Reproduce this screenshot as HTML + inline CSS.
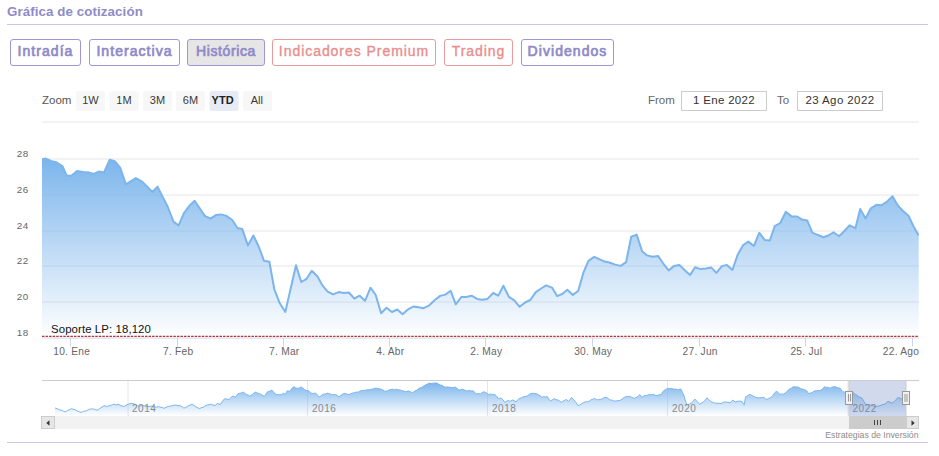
<!DOCTYPE html>
<html><head><meta charset="utf-8">
<style>
html,body{margin:0;padding:0;background:#fff;}
body{width:939px;height:456px;position:relative;overflow:hidden;font-family:"Liberation Sans",sans-serif;}
.abs{position:absolute;}
.title{left:7px;top:4px;font-size:13.3px;line-height:16px;font-weight:bold;color:#8f8bc7;white-space:nowrap;letter-spacing:0.1px;}
.hr{position:absolute;left:7px;width:921px;height:1px;background:#c9c6e6;}
.btn{position:absolute;top:39px;height:25px;border:1px solid #9d98d3;border-radius:3px;box-sizing:content-box;
 color:#8f8ac8;font-weight:normal;-webkit-text-stroke:0.7px #8f8ac8;font-size:14px;line-height:23px;text-align:center;white-space:nowrap;letter-spacing:1.05px;}
.btn.red{border-color:#e99a9a;color:#e98d8d;font-weight:normal;-webkit-text-stroke:0.35px #e98d8d;letter-spacing:0.95px;}
.btn.sel{background:#e6e6e6;}
svg text{font-family:"Liberation Sans",sans-serif;}
</style></head><body>
<div class="abs title">Gráfica de cotización</div>
<div class="hr" style="top:24px"></div>
<div class="btn" style="left:10px;width:69px;">Intradía</div>
<div class="btn" style="left:89px;width:89px;">Interactiva</div>
<div class="btn sel" style="left:187px;width:76px;letter-spacing:0.6px;">Histórica</div>
<div class="btn red" style="left:272px;width:162px;">Indicadores Premium</div>
<div class="btn red" style="left:444px;width:67px;">Trading</div>
<div class="btn" style="left:521px;width:91px;">Dividendos</div>
<div class="hr" style="top:442px"></div>

<svg class="abs" style="left:0;top:0" width="939" height="456" viewBox="0 0 939 456">
<defs>
<clipPath id="pc"><rect x="42" y="110" width="877" height="230"/></clipPath>
<linearGradient id="g1" x1="0" y1="0" x2="0" y2="1">
<stop offset="0" stop-color="#7cb5ec" stop-opacity="1"/>
<stop offset="1" stop-color="#7cb5ec" stop-opacity="0"/>
</linearGradient>
<linearGradient id="g2" x1="0" y1="0" x2="0" y2="1">
<stop offset="0" stop-color="#7cb5ec" stop-opacity="1"/>
<stop offset="1" stop-color="#7cb5ec" stop-opacity="0"/>
</linearGradient>
</defs>
<!-- range selector -->
<text x="42" y="104" font-size="11.5" fill="#555">Zoom</text>
<g font-size="11" fill="#3a3a3a" text-anchor="middle">
<rect x="76" y="91" width="29" height="20" fill="#f7f7f7" rx="2"/><text x="90.5" y="103.8">1W</text>
<rect x="109.5" y="91" width="29" height="20" fill="#f7f7f7" rx="2"/><text x="124" y="103.8">1M</text>
<rect x="143" y="91" width="29" height="20" fill="#f7f7f7" rx="2"/><text x="157.5" y="103.8">3M</text>
<rect x="176" y="91" width="29" height="20" fill="#f7f7f7" rx="2"/><text x="190.5" y="103.8">6M</text>
<rect x="209.5" y="91" width="29" height="20" fill="#e6ebf5" rx="2"/><text x="222.6" y="103.8" font-weight="bold" fill="#222">YTD</text>
<rect x="243" y="91" width="29" height="20" fill="#f7f7f7" rx="2"/><text x="256.9" y="103.8">All</text>
</g>
<text x="648" y="104.3" font-size="11.5" fill="#666">From</text>
<rect x="681.5" y="91.5" width="85" height="19" fill="#fff" stroke="#ccc"/>
<text x="724" y="104.3" font-size="11.5" fill="#333" text-anchor="middle" letter-spacing="0.3">1 Ene 2022</text>
<text x="777" y="104.3" font-size="11.5" fill="#666">To</text>
<rect x="797.5" y="91.5" width="85" height="19" fill="#fff" stroke="#ccc"/>
<text x="840" y="104.3" font-size="11.5" fill="#333" text-anchor="middle" letter-spacing="0.4">23 Ago 2022</text>

<!-- grid -->
<g stroke="#e6e6e6" stroke-width="1">
<path d="M42 122H919M42 159H919M42 195H919M42 231H919M42 266H919M42 302H919"/>
</g>
<!-- series -->
<path d="M42.0 159.2 L45.8 158.6 L50.9 160.9 L56.0 162.1 L62.4 166.0 L66.8 175.8 L71.3 175.8 L77.1 171.1 L83.4 172.0 L88.6 172.4 L93.7 173.9 L98.8 171.6 L103.9 172.6 L109.6 159.8 L114.8 161.1 L120.5 168.2 L125.9 184.4 L135.8 178.0 L142.2 181.6 L152.5 192.0 L157.5 186.6 L167.8 207.0 L173.5 221.6 L178.6 225.5 L183.8 213.3 L189.5 205.7 L194.6 200.8 L204.8 215.9 L210.6 218.7 L216.3 214.9 L220.8 214.4 L225.9 215.6 L232.3 220.0 L237.4 228.0 L242.2 228.9 L247.9 245.4 L253.4 235.5 L258.9 247.0 L264.0 260.8 L269.4 261.8 L274.3 289.3 L279.8 303.3 L285.3 312.0 L296.0 265.3 L301.3 282.0 L306.6 278.8 L311.8 270.8 L317.5 276.5 L322.6 285.7 L327.7 291.6 L333.1 294.4 L338.6 292.1 L343.7 293.1 L348.8 292.5 L354.3 298.5 L359.7 295.7 L365.0 300.8 L370.5 287.7 L375.7 295.0 L381.1 313.3 L386.5 307.8 L391.9 312.0 L397.4 309.5 L402.5 314.2 L407.6 309.7 L413.3 306.5 L418.5 307.2 L423.6 308.2 L429.3 305.3 L435.1 299.8 L440.2 295.9 L445.3 294.6 L450.7 290.8 L455.8 304.4 L461.3 297.0 L466.4 297.0 L471.5 295.7 L477.2 298.9 L482.3 299.8 L487.5 298.9 L493.2 293.0 L498.3 295.6 L503.4 285.7 L508.9 296.9 L514.3 300.4 L519.6 306.8 L525.1 302.5 L530.3 300.0 L535.8 292.1 L541.1 288.5 L546.2 285.4 L552.0 287.6 L557.1 296.1 L562.2 294.0 L567.3 289.8 L572.8 294.9 L578.2 291.0 L583.3 272.9 L588.4 260.8 L594.2 256.9 L599.3 259.1 L604.8 261.6 L610.1 262.7 L615.2 264.6 L620.6 265.9 L626.1 262.1 L631.2 236.8 L636.7 234.6 L642.1 251.2 L647.2 255.4 L652.5 256.7 L658.0 255.9 L663.1 263.3 L668.6 270.4 L674.0 266.1 L679.4 264.9 L684.5 270.0 L690.0 275.1 L695.1 267.2 L700.6 269.1 L706.0 268.5 L711.1 267.4 L716.4 272.9 L721.9 266.1 L726.9 264.9 L732.4 270.0 L737.8 254.4 L743.2 245.0 L748.4 241.6 L753.8 246.0 L759.3 232.8 L764.7 239.9 L769.8 240.6 L774.7 226.2 L780.3 223.0 L785.8 211.8 L791.6 216.4 L796.7 216.4 L801.8 219.4 L807.2 220.4 L812.3 232.6 L817.4 234.8 L823.4 237.2 L828.1 235.5 L833.6 232.3 L839.0 236.2 L844.6 230.8 L849.7 225.3 L855.4 228.2 L860.2 209.0 L865.6 218.5 L870.8 208.3 L876.5 204.8 L881.6 205.2 L886.7 201.9 L892.5 196.2 L898.0 205.7 L903.3 211.2 L908.5 215.7 L913.6 226.5 L918.7 235.5 L918.7 338 L42.0 338 Z" fill="url(#g1)"/>
<path d="M42.0 159.2 L45.8 158.6 L50.9 160.9 L56.0 162.1 L62.4 166.0 L66.8 175.8 L71.3 175.8 L77.1 171.1 L83.4 172.0 L88.6 172.4 L93.7 173.9 L98.8 171.6 L103.9 172.6 L109.6 159.8 L114.8 161.1 L120.5 168.2 L125.9 184.4 L135.8 178.0 L142.2 181.6 L152.5 192.0 L157.5 186.6 L167.8 207.0 L173.5 221.6 L178.6 225.5 L183.8 213.3 L189.5 205.7 L194.6 200.8 L204.8 215.9 L210.6 218.7 L216.3 214.9 L220.8 214.4 L225.9 215.6 L232.3 220.0 L237.4 228.0 L242.2 228.9 L247.9 245.4 L253.4 235.5 L258.9 247.0 L264.0 260.8 L269.4 261.8 L274.3 289.3 L279.8 303.3 L285.3 312.0 L296.0 265.3 L301.3 282.0 L306.6 278.8 L311.8 270.8 L317.5 276.5 L322.6 285.7 L327.7 291.6 L333.1 294.4 L338.6 292.1 L343.7 293.1 L348.8 292.5 L354.3 298.5 L359.7 295.7 L365.0 300.8 L370.5 287.7 L375.7 295.0 L381.1 313.3 L386.5 307.8 L391.9 312.0 L397.4 309.5 L402.5 314.2 L407.6 309.7 L413.3 306.5 L418.5 307.2 L423.6 308.2 L429.3 305.3 L435.1 299.8 L440.2 295.9 L445.3 294.6 L450.7 290.8 L455.8 304.4 L461.3 297.0 L466.4 297.0 L471.5 295.7 L477.2 298.9 L482.3 299.8 L487.5 298.9 L493.2 293.0 L498.3 295.6 L503.4 285.7 L508.9 296.9 L514.3 300.4 L519.6 306.8 L525.1 302.5 L530.3 300.0 L535.8 292.1 L541.1 288.5 L546.2 285.4 L552.0 287.6 L557.1 296.1 L562.2 294.0 L567.3 289.8 L572.8 294.9 L578.2 291.0 L583.3 272.9 L588.4 260.8 L594.2 256.9 L599.3 259.1 L604.8 261.6 L610.1 262.7 L615.2 264.6 L620.6 265.9 L626.1 262.1 L631.2 236.8 L636.7 234.6 L642.1 251.2 L647.2 255.4 L652.5 256.7 L658.0 255.9 L663.1 263.3 L668.6 270.4 L674.0 266.1 L679.4 264.9 L684.5 270.0 L690.0 275.1 L695.1 267.2 L700.6 269.1 L706.0 268.5 L711.1 267.4 L716.4 272.9 L721.9 266.1 L726.9 264.9 L732.4 270.0 L737.8 254.4 L743.2 245.0 L748.4 241.6 L753.8 246.0 L759.3 232.8 L764.7 239.9 L769.8 240.6 L774.7 226.2 L780.3 223.0 L785.8 211.8 L791.6 216.4 L796.7 216.4 L801.8 219.4 L807.2 220.4 L812.3 232.6 L817.4 234.8 L823.4 237.2 L828.1 235.5 L833.6 232.3 L839.0 236.2 L844.6 230.8 L849.7 225.3 L855.4 228.2 L860.2 209.0 L865.6 218.5 L870.8 208.3 L876.5 204.8 L881.6 205.2 L886.7 201.9 L892.5 196.2 L898.0 205.7 L903.3 211.2 L908.5 215.7 L913.6 226.5 L918.7 235.5" fill="none" stroke="#7cb5ec" stroke-width="2" stroke-linejoin="round" stroke-linecap="butt" clip-path="url(#pc)"/>
<!-- axis -->
<path d="M42 338H919" stroke="#ccd6eb" stroke-width="1"/>
<g stroke="#ccd6eb" stroke-width="1">
<path d="M70.5 338V346.5M177.5 338V346.5M283.5 338V346.5M389.5 338V346.5M485.5 338V346.5M592.5 338V346.5M699.5 338V346.5M805.5 338V346.5M912.5 338V346.5"/>
</g>
<path d="M42 336.3H919" stroke="#bb3535" stroke-width="1.35" stroke-dasharray="2.5,1.05"/>
<text x="51" y="333" font-size="11.4" fill="#111" letter-spacing="0.1">Soporte LP: 18,120</text>
<g font-size="9.9" fill="#666" text-anchor="end" letter-spacing="0.6">
<text x="28.9" y="157">28</text>
<text x="28.9" y="193">26</text>
<text x="28.9" y="229">24</text>
<text x="28.9" y="264">22</text>
<text x="28.9" y="300">20</text>
<text x="28.9" y="336">18</text>
</g>
<g font-size="10.2" fill="#666" text-anchor="middle" letter-spacing="0.25">
<text x="71.7" y="355">10. Ene</text>
<text x="178.2" y="355">7. Feb</text>
<text x="284.3" y="355">7. Mar</text>
<text x="390.3" y="355">4. Abr</text>
<text x="486.3" y="355">2. May</text>
<text x="593.2" y="355">30. May</text>
<text x="700.2" y="355">27. Jun</text>
<text x="806.3" y="355">25. Jul</text>
<text x="901" y="355">22. Ago</text>
</g>

<!-- navigator -->
<g stroke="#e6e6e6" stroke-width="1">
<path d="M128 380V416M307.5 380V416M487.5 380V416M667.5 380V416M848 380V416"/>
</g>
<path d="M55.1 408.0 L57.5 408.8 L59.8 410.0 L61.7 410.2 L63.7 411.4 L65.6 411.9 L67.5 410.4 L69.4 409.8 L71.3 408.7 L73.2 409.3 L75.2 409.7 L77.1 411.0 L79.3 411.8 L81.5 412.5 L83.2 411.4 L84.9 411.2 L86.6 410.6 L88.5 409.6 L90.5 409.0 L92.4 408.9 L94.3 409.2 L96.2 410.0 L98.1 410.0 L100.0 408.2 L102.0 407.0 L103.9 405.9 L105.6 406.0 L107.3 406.4 L109.0 405.9 L110.7 405.4 L112.4 404.7 L114.1 404.2 L116.0 405.0 L118.0 404.3 L119.9 405.1 L122.1 406.1 L124.3 406.4 L126.2 405.1 L128.2 404.2 L129.9 403.6 L131.6 403.4 L133.3 403.6 L135.7 404.6 L138.0 406.0 L139.7 406.2 L141.3 405.3 L143.0 405.5 L145.0 406.1 L147.0 406.5 L149.1 406.5 L151.2 406.1 L153.1 406.5 L155.0 407.1 L156.7 407.2 L158.4 406.6 L160.1 407.1 L162.0 407.3 L163.9 408.4 L166.2 407.1 L168.4 406.4 L170.3 406.2 L172.3 405.5 L174.2 405.1 L175.8 405.1 L177.4 405.6 L179.0 405.6 L180.6 405.9 L182.2 406.7 L183.8 408.0 L185.5 407.6 L187.1 406.7 L188.8 405.4 L190.4 405.0 L192.1 404.2 L194.0 405.4 L195.9 406.9 L197.8 407.8 L199.7 408.7 L201.4 407.6 L203.1 407.5 L204.8 406.1 L206.9 405.0 L209.1 404.7 L211.2 404.2 L213.1 405.1 L215.1 405.5 L217.6 403.3 L220.2 404.6 L222.4 401.3 L224.6 398.7 L226.8 399.1 L229.1 399.5 L231.1 397.3 L233.0 396.1 L235.5 397.2 L238.1 393.6 L239.8 393.3 L241.5 392.9 L243.2 392.1 L244.8 393.2 L246.4 394.5 L248.0 394.9 L249.6 396.1 L251.5 395.0 L253.4 393.5 L255.3 392.1 L257.2 393.0 L259.2 393.6 L261.1 394.4 L264.3 396.5 L267.5 391.8 L269.7 391.3 L271.9 390.1 L274.1 392.8 L276.4 394.6 L278.1 394.6 L279.8 394.8 L281.5 394.6 L283.4 393.3 L285.3 394.4 L287.3 390.8 L289.8 391.4 L291.7 388.6 L293.6 386.7 L295.6 387.8 L297.5 388.5 L299.4 387.9 L301.3 386.9 L304.5 389.5 L306.4 390.5 L308.3 390.5 L310.2 392.4 L312.2 393.6 L314.1 393.2 L316.0 393.3 L319.2 397.2 L321.4 395.5 L323.7 394.0 L325.4 394.1 L327.1 393.2 L328.8 393.6 L330.7 394.2 L332.6 394.9 L335.2 394.4 L337.1 395.3 L339.0 396.9 L340.9 395.3 L342.9 394.0 L344.8 393.3 L347.0 394.2 L349.2 394.6 L350.9 393.6 L352.6 393.1 L354.3 392.7 L356.0 392.1 L357.8 392.2 L359.5 391.4 L361.4 390.5 L363.3 390.5 L365.2 390.3 L367.1 389.8 L369.0 389.8 L371.0 389.4 L372.9 389.0 L374.8 388.2 L376.9 388.3 L379.1 388.8 L381.2 389.2 L383.1 390.1 L385.0 391.4 L387.2 391.0 L389.5 389.8 L392.7 389.2 L394.4 389.9 L396.1 389.2 L397.8 389.8 L399.7 389.9 L401.6 390.5 L403.5 391.0 L405.4 391.8 L407.0 391.4 L408.6 391.0 L410.6 391.9 L412.5 392.7 L414.8 391.1 L417.0 390.1 L419.1 388.3 L421.2 387.5 L423.3 386.3 L425.2 385.1 L427.2 384.2 L429.1 383.1 L431.0 383.5 L433.0 383.2 L434.9 383.0 L436.8 382.9 L438.6 384.0 L440.3 385.0 L442.1 385.3 L443.8 386.7 L445.7 387.2 L447.6 386.9 L449.5 387.3 L451.5 387.5 L453.4 387.5 L455.3 387.2 L457.2 388.5 L459.1 390.1 L462.3 389.2 L464.6 390.0 L466.8 391.0 L468.9 390.5 L471.1 391.0 L473.2 390.8 L476.4 394.0 L478.3 393.5 L480.2 394.0 L483.4 391.8 L485.1 392.2 L486.8 393.2 L488.5 394.4 L490.6 394.1 L492.8 394.4 L494.9 394.6 L496.5 396.0 L498.1 398.4 L501.3 398.2 L503.1 399.8 L504.9 402.5 L507.7 400.4 L510.2 401.3 L512.8 400.0 L514.4 400.6 L516.0 402.0 L517.6 399.9 L519.2 398.7 L521.3 397.8 L523.5 396.7 L525.6 396.5 L527.3 395.9 L529.0 394.7 L530.7 393.6 L532.8 393.3 L535.0 393.6 L537.1 394.0 L538.8 394.9 L540.5 396.0 L542.2 397.2 L543.9 396.6 L545.6 397.1 L547.3 396.5 L548.9 399.3 L550.5 401.0 L552.4 399.8 L554.3 398.7 L556.0 399.6 L557.8 400.0 L559.5 401.0 L561.3 402.3 L563.0 401.2 L564.8 400.2 L566.5 399.5 L568.4 401.3 L570.0 399.7 L571.6 397.4 L573.7 399.7 L575.9 402.3 L578.0 405.5 L579.7 405.1 L581.4 403.8 L583.1 402.9 L585.2 401.9 L587.4 401.7 L589.5 401.0 L591.2 399.6 L592.9 399.3 L594.6 398.4 L596.5 399.6 L598.4 399.7 L600.3 399.5 L602.2 398.7 L604.2 397.6 L606.1 397.2 L608.0 398.5 L609.9 400.0 L611.8 400.0 L613.8 401.0 L615.7 401.0 L617.9 400.7 L620.1 400.4 L622.0 399.2 L624.0 397.4 L625.9 396.8 L627.8 396.5 L629.7 396.5 L631.6 397.2 L634.2 398.4 L636.1 397.5 L638.0 396.4 L639.9 394.6 L641.8 397.4 L644.4 395.6 L646.1 395.6 L647.8 395.1 L649.5 394.4 L651.4 394.8 L653.3 394.4 L655.2 395.3 L657.2 395.6 L659.1 394.8 L661.0 394.6 L663.6 390.8 L665.5 389.7 L667.4 388.5 L669.5 388.6 L671.7 388.4 L673.8 389.2 L675.7 389.0 L677.6 389.8 L680.8 388.9 L682.4 392.2 L684.0 395.9 L686.6 404.8 L689.1 404.2 L691.7 402.9 L694.9 399.1 L697.1 401.4 L699.3 404.2 L701.2 403.3 L703.2 402.0 L705.1 400.4 L707.0 397.8 L708.6 399.3 L710.2 401.0 L712.0 402.1 L713.7 402.7 L715.5 403.2 L717.2 403.3 L719.2 403.3 L721.1 403.6 L723.6 402.0 L725.7 402.0 L727.9 402.3 L730.0 402.9 L732.8 400.0 L735.1 402.0 L737.7 401.3 L739.9 401.1 L742.1 401.6 L744.1 405.1 L745.6 396.9 L748.0 395.3 L750.4 394.4 L752.1 395.5 L753.9 396.7 L755.6 397.2 L757.5 397.9 L759.4 397.8 L761.6 397.6 L763.9 397.4 L766.4 399.5 L768.3 398.7 L770.3 397.8 L772.2 396.5 L774.4 393.3 L776.6 391.0 L779.2 394.0 L781.5 394.2 L783.7 394.0 L785.4 393.0 L787.1 391.3 L788.8 389.5 L791.0 388.4 L793.3 386.7 L795.2 387.0 L797.1 386.9 L799.0 387.6 L800.9 388.7 L802.8 389.2 L804.8 389.8 L806.7 390.8 L808.6 393.6 L810.5 393.1 L812.4 392.4 L814.3 391.0 L816.2 390.7 L818.2 390.6 L820.1 390.5 L822.4 389.1 L824.6 386.7 L826.3 387.4 L828.0 387.3 L829.7 388.2 L831.6 387.3 L833.5 386.8 L835.4 386.7 L837.6 387.8 L839.9 388.0 L842.5 391.4 L844.4 392.2 L846.3 392.3 L848.1 392.1 L850.0 393.0 L851.8 393.3 L853.6 392.9 L855.4 394.4 L857.2 395.5 L859.0 397.0 L861.7 397.9 L863.8 401.4 L865.8 404.7 L867.8 404.5 L869.9 405.1 L872.0 405.0 L874.1 406.6 L876.2 406.5 L878.0 406.2 L879.8 405.6 L882.0 404.9 L884.3 404.2 L886.1 403.2 L888.0 401.3 L890.0 402.2 L892.0 403.2 L894.0 401.7 L895.9 399.8 L897.9 397.5 L900.0 398.1 L902.0 399.3 L904.0 398.4 L906.0 398.0 L906.0 416 L55.1 416 Z" fill="url(#g2)"/>
<path d="M55.1 408.0 L57.5 408.8 L59.8 410.0 L61.7 410.2 L63.7 411.4 L65.6 411.9 L67.5 410.4 L69.4 409.8 L71.3 408.7 L73.2 409.3 L75.2 409.7 L77.1 411.0 L79.3 411.8 L81.5 412.5 L83.2 411.4 L84.9 411.2 L86.6 410.6 L88.5 409.6 L90.5 409.0 L92.4 408.9 L94.3 409.2 L96.2 410.0 L98.1 410.0 L100.0 408.2 L102.0 407.0 L103.9 405.9 L105.6 406.0 L107.3 406.4 L109.0 405.9 L110.7 405.4 L112.4 404.7 L114.1 404.2 L116.0 405.0 L118.0 404.3 L119.9 405.1 L122.1 406.1 L124.3 406.4 L126.2 405.1 L128.2 404.2 L129.9 403.6 L131.6 403.4 L133.3 403.6 L135.7 404.6 L138.0 406.0 L139.7 406.2 L141.3 405.3 L143.0 405.5 L145.0 406.1 L147.0 406.5 L149.1 406.5 L151.2 406.1 L153.1 406.5 L155.0 407.1 L156.7 407.2 L158.4 406.6 L160.1 407.1 L162.0 407.3 L163.9 408.4 L166.2 407.1 L168.4 406.4 L170.3 406.2 L172.3 405.5 L174.2 405.1 L175.8 405.1 L177.4 405.6 L179.0 405.6 L180.6 405.9 L182.2 406.7 L183.8 408.0 L185.5 407.6 L187.1 406.7 L188.8 405.4 L190.4 405.0 L192.1 404.2 L194.0 405.4 L195.9 406.9 L197.8 407.8 L199.7 408.7 L201.4 407.6 L203.1 407.5 L204.8 406.1 L206.9 405.0 L209.1 404.7 L211.2 404.2 L213.1 405.1 L215.1 405.5 L217.6 403.3 L220.2 404.6 L222.4 401.3 L224.6 398.7 L226.8 399.1 L229.1 399.5 L231.1 397.3 L233.0 396.1 L235.5 397.2 L238.1 393.6 L239.8 393.3 L241.5 392.9 L243.2 392.1 L244.8 393.2 L246.4 394.5 L248.0 394.9 L249.6 396.1 L251.5 395.0 L253.4 393.5 L255.3 392.1 L257.2 393.0 L259.2 393.6 L261.1 394.4 L264.3 396.5 L267.5 391.8 L269.7 391.3 L271.9 390.1 L274.1 392.8 L276.4 394.6 L278.1 394.6 L279.8 394.8 L281.5 394.6 L283.4 393.3 L285.3 394.4 L287.3 390.8 L289.8 391.4 L291.7 388.6 L293.6 386.7 L295.6 387.8 L297.5 388.5 L299.4 387.9 L301.3 386.9 L304.5 389.5 L306.4 390.5 L308.3 390.5 L310.2 392.4 L312.2 393.6 L314.1 393.2 L316.0 393.3 L319.2 397.2 L321.4 395.5 L323.7 394.0 L325.4 394.1 L327.1 393.2 L328.8 393.6 L330.7 394.2 L332.6 394.9 L335.2 394.4 L337.1 395.3 L339.0 396.9 L340.9 395.3 L342.9 394.0 L344.8 393.3 L347.0 394.2 L349.2 394.6 L350.9 393.6 L352.6 393.1 L354.3 392.7 L356.0 392.1 L357.8 392.2 L359.5 391.4 L361.4 390.5 L363.3 390.5 L365.2 390.3 L367.1 389.8 L369.0 389.8 L371.0 389.4 L372.9 389.0 L374.8 388.2 L376.9 388.3 L379.1 388.8 L381.2 389.2 L383.1 390.1 L385.0 391.4 L387.2 391.0 L389.5 389.8 L392.7 389.2 L394.4 389.9 L396.1 389.2 L397.8 389.8 L399.7 389.9 L401.6 390.5 L403.5 391.0 L405.4 391.8 L407.0 391.4 L408.6 391.0 L410.6 391.9 L412.5 392.7 L414.8 391.1 L417.0 390.1 L419.1 388.3 L421.2 387.5 L423.3 386.3 L425.2 385.1 L427.2 384.2 L429.1 383.1 L431.0 383.5 L433.0 383.2 L434.9 383.0 L436.8 382.9 L438.6 384.0 L440.3 385.0 L442.1 385.3 L443.8 386.7 L445.7 387.2 L447.6 386.9 L449.5 387.3 L451.5 387.5 L453.4 387.5 L455.3 387.2 L457.2 388.5 L459.1 390.1 L462.3 389.2 L464.6 390.0 L466.8 391.0 L468.9 390.5 L471.1 391.0 L473.2 390.8 L476.4 394.0 L478.3 393.5 L480.2 394.0 L483.4 391.8 L485.1 392.2 L486.8 393.2 L488.5 394.4 L490.6 394.1 L492.8 394.4 L494.9 394.6 L496.5 396.0 L498.1 398.4 L501.3 398.2 L503.1 399.8 L504.9 402.5 L507.7 400.4 L510.2 401.3 L512.8 400.0 L514.4 400.6 L516.0 402.0 L517.6 399.9 L519.2 398.7 L521.3 397.8 L523.5 396.7 L525.6 396.5 L527.3 395.9 L529.0 394.7 L530.7 393.6 L532.8 393.3 L535.0 393.6 L537.1 394.0 L538.8 394.9 L540.5 396.0 L542.2 397.2 L543.9 396.6 L545.6 397.1 L547.3 396.5 L548.9 399.3 L550.5 401.0 L552.4 399.8 L554.3 398.7 L556.0 399.6 L557.8 400.0 L559.5 401.0 L561.3 402.3 L563.0 401.2 L564.8 400.2 L566.5 399.5 L568.4 401.3 L570.0 399.7 L571.6 397.4 L573.7 399.7 L575.9 402.3 L578.0 405.5 L579.7 405.1 L581.4 403.8 L583.1 402.9 L585.2 401.9 L587.4 401.7 L589.5 401.0 L591.2 399.6 L592.9 399.3 L594.6 398.4 L596.5 399.6 L598.4 399.7 L600.3 399.5 L602.2 398.7 L604.2 397.6 L606.1 397.2 L608.0 398.5 L609.9 400.0 L611.8 400.0 L613.8 401.0 L615.7 401.0 L617.9 400.7 L620.1 400.4 L622.0 399.2 L624.0 397.4 L625.9 396.8 L627.8 396.5 L629.7 396.5 L631.6 397.2 L634.2 398.4 L636.1 397.5 L638.0 396.4 L639.9 394.6 L641.8 397.4 L644.4 395.6 L646.1 395.6 L647.8 395.1 L649.5 394.4 L651.4 394.8 L653.3 394.4 L655.2 395.3 L657.2 395.6 L659.1 394.8 L661.0 394.6 L663.6 390.8 L665.5 389.7 L667.4 388.5 L669.5 388.6 L671.7 388.4 L673.8 389.2 L675.7 389.0 L677.6 389.8 L680.8 388.9 L682.4 392.2 L684.0 395.9 L686.6 404.8 L689.1 404.2 L691.7 402.9 L694.9 399.1 L697.1 401.4 L699.3 404.2 L701.2 403.3 L703.2 402.0 L705.1 400.4 L707.0 397.8 L708.6 399.3 L710.2 401.0 L712.0 402.1 L713.7 402.7 L715.5 403.2 L717.2 403.3 L719.2 403.3 L721.1 403.6 L723.6 402.0 L725.7 402.0 L727.9 402.3 L730.0 402.9 L732.8 400.0 L735.1 402.0 L737.7 401.3 L739.9 401.1 L742.1 401.6 L744.1 405.1 L745.6 396.9 L748.0 395.3 L750.4 394.4 L752.1 395.5 L753.9 396.7 L755.6 397.2 L757.5 397.9 L759.4 397.8 L761.6 397.6 L763.9 397.4 L766.4 399.5 L768.3 398.7 L770.3 397.8 L772.2 396.5 L774.4 393.3 L776.6 391.0 L779.2 394.0 L781.5 394.2 L783.7 394.0 L785.4 393.0 L787.1 391.3 L788.8 389.5 L791.0 388.4 L793.3 386.7 L795.2 387.0 L797.1 386.9 L799.0 387.6 L800.9 388.7 L802.8 389.2 L804.8 389.8 L806.7 390.8 L808.6 393.6 L810.5 393.1 L812.4 392.4 L814.3 391.0 L816.2 390.7 L818.2 390.6 L820.1 390.5 L822.4 389.1 L824.6 386.7 L826.3 387.4 L828.0 387.3 L829.7 388.2 L831.6 387.3 L833.5 386.8 L835.4 386.7 L837.6 387.8 L839.9 388.0 L842.5 391.4 L844.4 392.2 L846.3 392.3 L848.1 392.1 L850.0 393.0 L851.8 393.3 L853.6 392.9 L855.4 394.4 L857.2 395.5 L859.0 397.0 L861.7 397.9 L863.8 401.4 L865.8 404.7 L867.8 404.5 L869.9 405.1 L872.0 405.0 L874.1 406.6 L876.2 406.5 L878.0 406.2 L879.8 405.6 L882.0 404.9 L884.3 404.2 L886.1 403.2 L888.0 401.3 L890.0 402.2 L892.0 403.2 L894.0 401.7 L895.9 399.8 L897.9 397.5 L900.0 398.1 L902.0 399.3 L904.0 398.4 L906.0 398.0" fill="none" stroke="#7cb5ec" stroke-width="1"/>
<g font-size="10" fill="#8a8a8a" letter-spacing="0.55">
<text x="132" y="412">2014</text>
<text x="312" y="412">2016</text>
<text x="492" y="412">2018</text>
<text x="672" y="412">2020</text>
<text x="852.5" y="412">2022</text>
</g>
<rect x="849" y="380.5" width="57" height="35.5" fill="rgba(102,133,194,0.3)"/>
<path d="M42 380.5H849V416M849 380.5H906V416M906 380.5H919" fill="none" stroke="#cccccc" stroke-width="1"/>
<!-- scrollbar -->
<rect x="42" y="416" width="877" height="13" fill="#f2f2f2"/>
<rect x="849" y="416" width="57" height="13" fill="#cccccc"/>
<path d="M874.5 420V425M877.5 420V425M880.5 420V425" stroke="#444" stroke-width="1"/>
<rect x="41.5" y="416.5" width="13" height="12" fill="#e6e6e6" stroke="#cccccc"/>
<path d="M46.3 423L49.5 420.3V425.7Z" fill="#333"/>
<rect x="906.5" y="416.5" width="12" height="12" fill="#e6e6e6" stroke="#cccccc"/>
<path d="M914.7 423L911.5 420.3V425.7Z" fill="#333"/>
<!-- handles -->
<rect x="845.5" y="391.5" width="7" height="13" fill="#f2f2f2" stroke="#999"/>
<path d="M848.5 394V401.5M850.5 394V401.5" stroke="#999" stroke-width="1"/>
<rect x="902.5" y="391.5" width="7" height="13" fill="#f2f2f2" stroke="#999"/>
<path d="M905 394V402M907 394V402" stroke="#999" stroke-width="1"/>
<text x="918.5" y="437.8" font-size="8.7" fill="#8c8c8c" text-anchor="end">Estrategias de Inversión</text>
</svg>
</body></html>
